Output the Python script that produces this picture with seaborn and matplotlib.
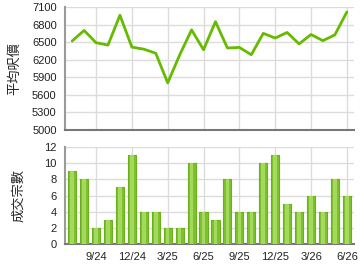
import matplotlib
matplotlib.use("Agg")
import matplotlib.pyplot as plt
import seaborn as sns
import numpy as np
import pandas as pd

months = ["7/24","8/24","9/24","10/24","11/24","12/24","1/25","2/25","3/25","4/25","5/25","6/25",
          "7/25","8/25","9/25","10/25","11/25","12/25","1/26","2/26","3/26","4/26","5/26","6/26"]
avg_price = [6520, 6700, 6490, 6450, 6960, 6415, 6380, 6310, 5805, 6280, 6710, 6370,
             6850, 6400, 6410, 6285, 6650, 6570, 6665, 6470, 6630, 6525, 6625, 7015]
volume = [9, 8, 2, 3, 7, 11, 4, 4, 2, 2, 10, 4, 3, 8, 4, 4, 10, 11, 5, 4, 6, 4, 8, 6]
tick_labels = ["9/24", "12/24", "3/25", "6/25", "9/25", "12/25", "3/26", "6/26"]
price_ticks = [5000, 5300, 5600, 5900, 6200, 6500, 6800, 7100]
vol_ticks = [0, 2, 4, 6, 8, 10, 12]

sns.set_style("white")
plt.rcParams['font.family'] = ['Liberation Sans', 'Noto Sans CJK TC', 'DejaVu Sans']

df = pd.DataFrame({"idx": np.arange(len(months)), "month": months,
                   "price": avg_price, "vol": volume})
tick_pos = [months.index(t) for t in tick_labels]

fig = plt.figure(figsize=(3.6, 2.7), dpi=100)
ax1 = fig.add_axes([65/360, 1-130/270, 289/360, 123/270])
ax2 = fig.add_axes([65/360, 1-244/270, 289/360, 97/270])

grid_c = "#dcdcdc"

# Top line chart
sns.lineplot(data=df, x="idx", y="price", ax=ax1, color="#66bb00", linewidth=2.0, zorder=3)
ax1.set_xlim(-0.6, len(months) - 0.4)
ax1.set_ylim(5000, 7100)
ax1.set_yticks(price_ticks)
ax1.set_xticks(tick_pos)
ax1.set_xticklabels([])
ax1.grid(True, color=grid_c, linewidth=1)
ax1.tick_params(axis='x', length=0)
ax1.tick_params(axis='y', length=0, labelsize=8, pad=6, colors="#222222")
ax1.set_xlabel("")
ax1.set_ylabel("平均呎價", fontsize=9.5, labelpad=8, family=['Noto Sans CJK TC', 'DejaVu Sans'])

# Bottom bar chart
sns.barplot(data=df, x="month", y="vol", ax=ax2, color="#7cc22a", width=0.68,
            edgecolor="#6ab01a", linewidth=0.8, saturation=1, zorder=3)
sns.barplot(data=df, x="month", y="vol", ax=ax2, color="#a4d85e", width=0.3,
            linewidth=0, saturation=1, zorder=4)
ax2.set_xlim(-0.6, len(months) - 0.4)
ax2.set_ylim(0, 12)
ax2.set_yticks(vol_ticks)
ax2.set_xticks(tick_pos)
ax2.set_xticklabels(tick_labels)
ax2.grid(True, color=grid_c, linewidth=1)
ax2.set_axisbelow(True)
ax2.tick_params(axis='x', length=4, width=1, color="#777777", labelsize=8, pad=2, colors="#222222")
ax2.tick_params(axis='x', color="#777777")
ax2.tick_params(axis='y', length=0, labelsize=8, pad=6, colors="#222222")
ax2.set_xlabel("")
ax2.set_ylabel("成交宗數", fontsize=9.5, labelpad=14, family=['Noto Sans CJK TC', 'DejaVu Sans'])

for ax in (ax1, ax2):
    ax.set_axisbelow(True)
    for s in ("top", "right"):
        ax.spines[s].set_visible(False)
    ax.spines["left"].set_color("#9a9a9a")
    ax.spines["left"].set_linewidth(1.5)
    ax.spines["bottom"].set_color("#777777")
    ax.spines["bottom"].set_linewidth(1.5)

fig.align_ylabels([ax1, ax2])
fig.savefig("out.png", dpi=100)
